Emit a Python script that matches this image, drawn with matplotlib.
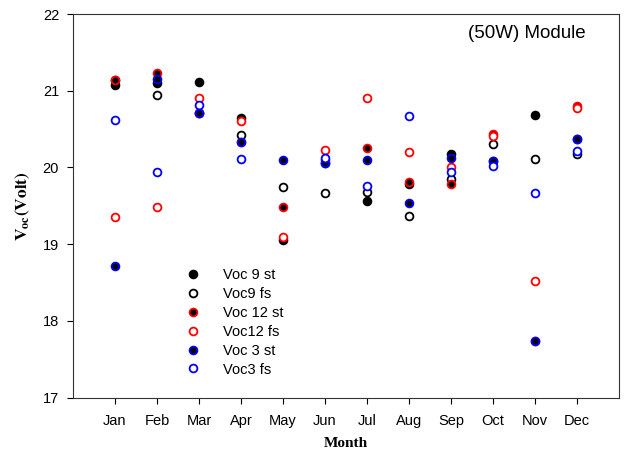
import numpy as np
import matplotlib
matplotlib.use("Agg")
import matplotlib.pyplot as plt

months = ["Jan", "Feb", "Mar", "Apr", "May", "Jun", "Jul", "Aug", "Sep", "Oct", "Nov", "Dec"]
nan = np.nan
voc9_st = [21.075, 21.10, 21.11, 20.65, 19.055, 20.06, 19.56, 19.78, 20.17, 20.08, 20.69, 20.37]
voc9_fs = [21.14, 20.94, 20.71, 20.42, 19.75, 19.67, 19.685, 19.37, 19.85, 20.30, 20.11, 20.17]
voc12_st = [21.14, 21.235, 20.71, 20.33, 19.49, 20.10, 20.26, 19.81, 19.78, 20.43, 17.74, 20.80]
voc12_fs = [19.35, 19.49, 20.91, 20.60, 19.09, 20.23, 20.91, 20.20, 20.00, 20.41, 18.52, 20.77]
voc3_st = [18.71, 21.15, 20.706, 20.33, 20.094, 20.06, 20.10, 19.54, 20.12, 20.08, 17.74, 20.37]
voc3_fs = [20.615, 19.94, 20.81, 20.11, nan, 20.13, 19.76, 20.67, 19.94, 20.02, 19.67, 20.22]

series = [
    ("Voc 9 st", voc9_st, "black", "black"),
    ("Voc9 fs", voc9_fs, "black", "white"),
    ("Voc 12 st", voc12_st, "red", "black"),
    ("Voc12 fs", voc12_fs, "red", "white"),
    ("Voc 3 st", voc3_st, "blue", "black"),
    ("Voc3 fs", voc3_fs, "blue", "white"),
]

plt.rcParams["font.family"] = ["Liberation Sans", "DejaVu Sans"]
plt.rcParams["mathtext.fontset"] = "stix"

fig = plt.figure(figsize=(6.26, 4.54), dpi=100)
ax = fig.add_axes([73/626, 1-397.7/454, (619-73)/626, (397.7-14)/454])

x = np.arange(1, 13)
for label, vals, ec, fc in series:
    ax.plot(x, vals, linestyle="none", marker="o", markersize=5.6,
            markeredgewidth=1.3, markeredgecolor=ec, markerfacecolor=fc, label=label)

ax.set_xlim(0, 13)
ax.set_ylim(17, 22)
ax.set_xticks(x)
ax.set_xticklabels(months)
ax.set_yticks([17, 18, 19, 20, 21, 22])
ax.tick_params(direction="out", length=4, width=0.8, labelsize=10.5, colors="black")
ax.tick_params(axis="x", pad=8)
ax.tick_params(axis="y", pad=6)
for s in ax.spines.values():
    s.set_linewidth(0.8)
    s.set_color("#333333")

ax.set_xlabel("Month", fontfamily="Liberation Serif", fontweight="bold", fontsize=11, labelpad=6)
ax.set_ylabel(r"$\mathbf{V_{oc}(Volt)}$", fontsize=12.5, labelpad=8)

ax.text(0.938, 0.95, "(50W) Module", transform=ax.transAxes, ha="right", va="center", fontsize=13.5)

leg = ax.legend(loc="upper left", bbox_to_anchor=(0.195, 0.352), frameon=False,
                fontsize=10.5, handlelength=1.0, handletextpad=1.6,
                labelspacing=0.33, borderaxespad=0)

fig.savefig("out.png", dpi=100)
